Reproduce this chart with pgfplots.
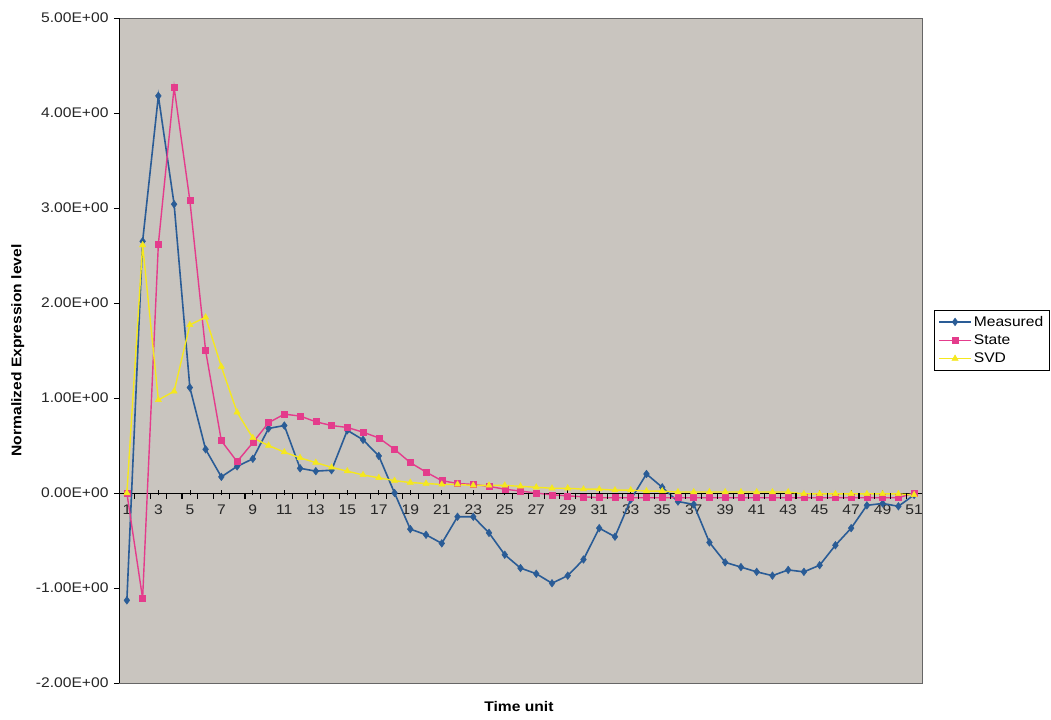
\documentclass[border=0pt]{standalone}
\usepackage{fontspec}
\setmainfont{Liberation Sans}[FakeStretch=1.12]
\usepackage{pgfplots}
\usepackage{pgfplotstable}
\pgfplotsset{compat=1.18}
\definecolor{bggray}{RGB}{201,197,191}
\definecolor{mblue}{RGB}{42,92,150}
\definecolor{spink}{RGB}{228,60,140}
\definecolor{syellow}{RGB}{245,232,30}

\pgfplotstableread{
t m s v
1 -1.13 0.00 0.00
2 2.65 -1.11 2.61
3 4.18 2.62 0.98
4 3.04 4.27 1.07
5 1.11 3.08 1.77
6 0.46 1.50 1.85
7 0.17 0.55 1.33
8 0.28 0.33 0.85
9 0.36 0.53 0.58
10 0.68 0.74 0.50
11 0.71 0.83 0.43
12 0.26 0.81 0.37
13 0.23 0.75 0.32
14 0.24 0.71 0.27
15 0.66 0.69 0.23
16 0.56 0.64 0.19
17 0.39 0.58 0.16
18 0.00 0.46 0.13
19 -0.38 0.32 0.11
20 -0.44 0.22 0.10
21 -0.53 0.13 0.09
22 -0.25 0.10 0.09
23 -0.25 0.09 0.08
24 -0.42 0.07 0.08
25 -0.65 0.04 0.08
26 -0.79 0.02 0.07
27 -0.85 0.00 0.06
28 -0.95 -0.02 0.05
29 -0.87 -0.03 0.05
30 -0.70 -0.04 0.04
31 -0.37 -0.05 0.04
32 -0.46 -0.05 0.03
33 -0.07 -0.05 0.03
34 0.20 -0.05 0.02
35 0.06 -0.05 0.02
36 -0.09 -0.05 0.01
37 -0.12 -0.05 0.01
38 -0.52 -0.05 0.01
39 -0.73 -0.05 0.01
40 -0.78 -0.05 0.01
41 -0.83 -0.05 0.01
42 -0.87 -0.05 0.01
43 -0.81 -0.05 0.01
44 -0.83 -0.05 -0.01
45 -0.76 -0.05 -0.01
46 -0.55 -0.05 -0.01
47 -0.37 -0.05 -0.01
48 -0.13 -0.05 -0.01
49 -0.11 -0.05 -0.01
50 -0.14 -0.05 -0.01
51 -0.02 0.00 -0.02
}\datatable

\begin{document}
\begin{tikzpicture}
\path[use as bounding box] (0,0) rectangle (1051bp,720bp);
\begin{axis}[
  at={(119bp,37bp)}, anchor=south west,
  width=803bp, height=665bp, scale only axis,
  xmin=0.5, xmax=51.5, ymin=-2, ymax=5,
  axis x line=middle, axis y line=left,
  axis line style={-, black, line width=0.8bp},
  axis background/.style={fill=bggray, draw=gray!80!black, line width=0.6bp},
  hide obscured x ticks=false, hide obscured y ticks=false,
  xtick={1,3,...,51},
  ytick align=outside,
  major tick length=5bp,
  tick style={black, line width=0.7bp},
  ytick={-2,-1,0,1,2,3,4,5},
  yticklabels={-2.00E+00,-1.00E+00,0.00E+00,1.00E+00,2.00E+00,3.00E+00,4.00E+00,5.00E+00},
  /pgf/number format/assume math mode=true,
  tick label style={font=\fontsize{14}{16}\selectfont, text=black!85},
  xticklabel style={yshift=-6bp},
  yticklabel style={xshift=-2bp},
  xlabel={Time unit},
  xlabel style={at={(axis description cs:0.498,-0.035)}, anchor=center, font=\bfseries\fontsize{14}{16}\selectfont},
  ylabel={Normalized Expression level},
  ylabel style={at={(axis description cs:-0.126,0.5)}, anchor=center, font=\bfseries\fontsize{14}{16}\selectfont},
  legend style={at={(1.015,0.561)}, anchor=north west, draw=black, fill=white,
    font=\fontsize{14}{16}\selectfont, row sep=3bp, inner sep=4bp},
  legend cell align=left,
  legend image code/.code={\draw[mark repeat=2,mark phase=2,#1] plot coordinates {(0bp,0bp) (16bp,0bp) (32bp,0bp)};},
]
\addplot[mblue, line width=1.6bp, mark=diamond*, mark size=3.8bp, mark options={fill=mblue, draw=mblue, line width=0.5bp}] table[x=t,y=m]{\datatable};
\addlegendentry{Measured}
\addplot[spink, line width=1.4bp, mark=square*, mark size=3bp, mark options={fill=spink, draw=spink, line width=0.5bp}] table[x=t,y=s]{\datatable};
\addlegendentry{State}
\addplot[syellow, line width=1.4bp, mark=triangle*, mark size=3.6bp, mark options={fill=syellow, draw=syellow, line width=0.5bp}] table[x=t,y=v]{\datatable};
\addlegendentry{SVD}
\pgfplotsinvokeforeach{1.5,2.5,...,50.5}{\draw[black, line width=1.1bp] (axis cs:#1,0) -- ([yshift=-6bp]axis cs:#1,0);}
\end{axis}
\end{tikzpicture}
\end{document}
